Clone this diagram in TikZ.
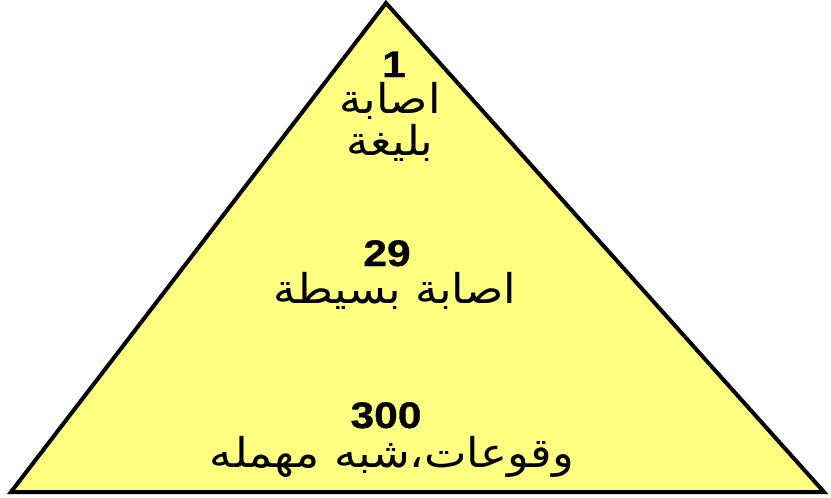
\documentclass[tikz,border=0pt]{standalone}
\usepackage{fontspec}
\setmainfont{Liberation Sans}
\newfontfamily\numfont[FakeStretch=1.15, FakeBold=0.8]{Liberation Sans Bold}
\newfontfamily\arabicfont[Script=Arabic, FakeStretch=1.1]{DejaVu Sans}
\TeXXeTstate=1
\usepackage{tikz}
\usetikzlibrary{positioning}
\definecolor{pyryellow}{HTML}{FFFF80}
\tikzset{
  num/.style  ={font=\numfont\fontsize{37}{40}\selectfont, inner sep=0pt, anchor=base,
                text height=26pt, text depth=0pt},
  arab/.style ={font=\arabicfont\fontsize{41}{44}\selectfont, inner sep=0pt, anchor=base,
                text height=28pt, text depth=8pt},
  pyr/.style  ={draw=black, line width=4pt, fill=pyryellow, line join=miter},
}
\begin{document}
\begin{tikzpicture}[x=1pt, y=-1pt]
  \useasboundingbox (0,0) rectangle (831,498);
  \coordinate (apex)  at (386,3);
  \coordinate (left)  at (11,492);
  \coordinate (right) at (824,492);
  \draw[pyr] (apex) -- (right) -- (left) -- cycle;

  % top tier
  \node[num]  (one)    at (394,77)  {1};
  \node[arab] (major1) at (390,113) {\beginR اصابة\endR};
  \node[arab] (major2) at (390,155) {\beginR بليغة\endR};
  % middle tier
  \node[num]  (ninet)  at (387,266) {29};
  \node[arab] (minor)  at (395,303) {\beginR اصابة بسيطة\endR};
  % bottom tier
  \node[num]  (three)  at (386,428) {300};
  \node[arab] (near)   at (392,467) {\beginR وقوعات،شبه مهمله\endR};
\end{tikzpicture}
\end{document}
